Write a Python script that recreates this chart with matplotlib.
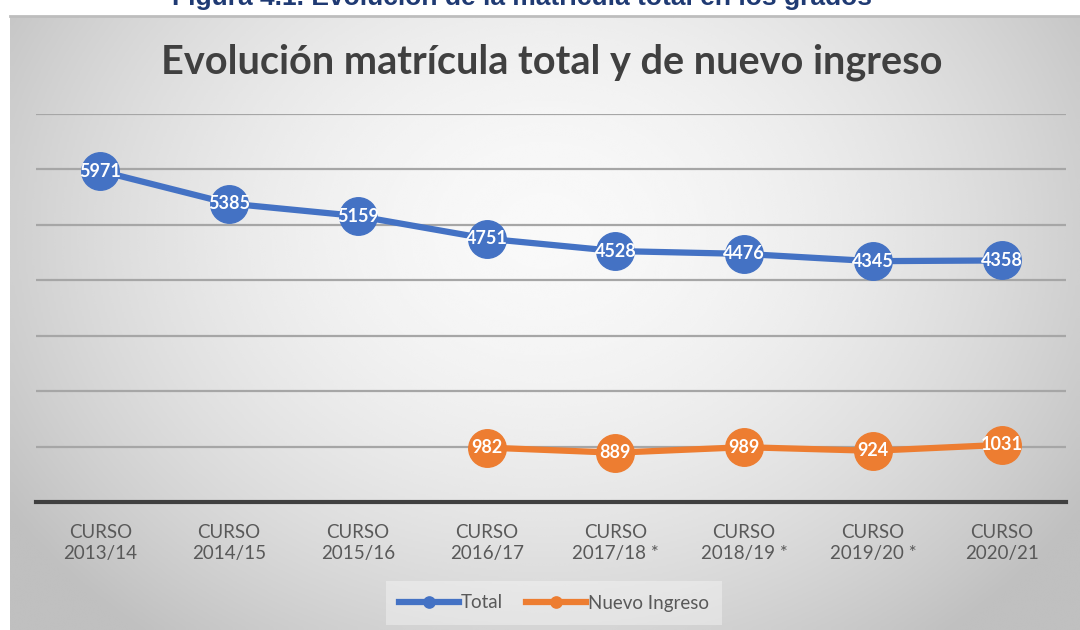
import numpy as np
import matplotlib
matplotlib.use('Agg')
import matplotlib.pyplot as plt

# ── data ──
cursos = ['CURSO\n2013/14', 'CURSO\n2014/15', 'CURSO\n2015/16', 'CURSO\n2016/17',
          'CURSO\n2017/18 *', 'CURSO\n2018/19 *', 'CURSO\n2019/20 *', 'CURSO\n2020/21']
total = [5971, 5385, 5159, 4751, 4528, 4476, 4345, 4358]
nuevo_ingreso = [np.nan, np.nan, np.nan, 982, 889, 989, 924, 1031]

BLUE = '#4472C4'
ORANGE = '#ED7D31'
GRAY_TXT = '#595959'

plt.rcParams['font.family'] = ['Lato', 'DejaVu Sans']

fig = plt.figure(figsize=(10.8, 6.3), dpi=100)

# ── background: radial grey gradient inside the chart frame ──
bg = fig.add_axes([10 / 1080, 0, 1 - 10 / 1080, 1 - 16 / 630], zorder=-10)
yy, xx = np.mgrid[-1:1:300j, -1:1:500j]
r = np.sqrt((xx / 1.0) ** 2 + ((yy + 0.3) / 1.4) ** 2)
shade = 0.975 - 0.16 * np.clip(r, 0, 1.2) ** 1.8
bg.imshow(shade, cmap='gray', vmin=0, vmax=1, aspect='auto',
          extent=[0, 1, 0, 1], interpolation='bicubic')
bg.set_xlim(0, 1)
bg.set_ylim(0, 1)
bg.axis('off')
fig.add_artist(plt.Line2D([10 / 1080, 1], [1 - 16 / 630] * 2, color='#bdbdbd',
                          lw=2, transform=fig.transFigure))

# caption above the chart, cut by the top edge as in the source
fig.text(0.483, 1 - 5 / 630, 'Figura 4.1. Evolución de la matrícula total en los grados',
         ha='center', va='baseline', fontsize=19, fontweight='bold',
         color='#1F3A73', family=['Liberation Sans', 'DejaVu Sans'])

# ── main plot ──
ax = fig.add_axes([36 / 1080, 1 - 502 / 630, 1030 / 1080, 388 / 630])
ax.patch.set_alpha(0)
x = np.arange(len(cursos))

ax.plot(x, total, '-o', color=BLUE, lw=4.5, markersize=27, zorder=3,
        label='Total')
ax.plot(x, nuevo_ingreso, '-o', color=ORANGE, lw=4.5, markersize=27, zorder=3,
        label='Nuevo Ingreso')

for xi, v in zip(x, total):
    ax.text(xi, v, f'{v}', ha='center', va='center', color='white',
            fontsize=13, fontweight='bold', zorder=4)
for xi, v in zip(x, nuevo_ingreso):
    if not np.isnan(v):
        ax.text(xi, v, f'{int(v)}', ha='center', va='center', color='white',
                fontsize=13, fontweight='bold', zorder=4)

ax.set_xlim(-0.5, len(cursos) - 0.5)
ax.set_ylim(0, 7000)
ax.set_yticks(np.arange(1000, 7001, 1000))
ax.yaxis.grid(True, color='#a6a6a6', lw=1.6)
ax.set_axisbelow(True)
ax.tick_params(axis='y', left=False, labelleft=False)
ax.tick_params(axis='x', bottom=False, labelsize=13.5, labelcolor=GRAY_TXT, pad=12)
ax.set_xticks(x)
ax.set_xticklabels(cursos, linespacing=1.35)
for s in ['top', 'right', 'left']:
    ax.spines[s].set_visible(False)
ax.spines['bottom'].set_color('#404040')
ax.spines['bottom'].set_linewidth(3)

fig.text(0.511, 1 - 62 / 630, 'Evolución matrícula total y de nuevo ingreso',
         ha='center', va='center', fontsize=28.5, fontweight='bold', color='#404040')

leg = fig.legend(loc='center', bbox_to_anchor=(0.513, 1 - 603 / 630), ncol=2,
                 frameon=True, fontsize=13.5, markerscale=0.3, handlelength=3.2,
                 handletextpad=0.1, columnspacing=1.2, borderpad=0.5,
                 labelcolor=GRAY_TXT)
leg.get_frame().set_facecolor('white')
leg.get_frame().set_alpha(0.35)
leg.get_frame().set_edgecolor('none')
leg.get_frame().set_boxstyle('square', pad=0.2)

fig.savefig('out.png', dpi=100)
